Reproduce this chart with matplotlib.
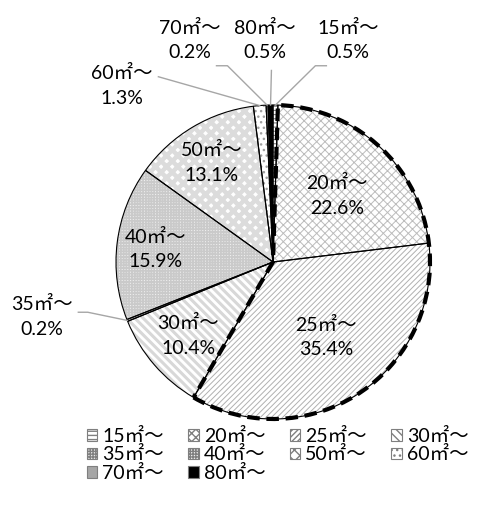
import matplotlib

matplotlib.use("Agg")
import matplotlib.pyplot as plt
import numpy as np
from matplotlib.patches import Patch, Wedge

# -------------------------------------------------------------------------
# Data
# -------------------------------------------------------------------------
categories = ["15㎡～", "20㎡～", "25㎡～", "30㎡～", "35㎡～",
              "40㎡～", "50㎡～", "60㎡～", "70㎡～", "80㎡～"]
shares = [0.5, 22.6, 35.4, 10.4, 0.2, 15.9, 13.1, 1.3, 0.2, 0.5]
pct_labels = ["0.5%", "22.6%", "35.4%", "10.4%", "0.2%",
              "15.9%", "13.1%", "1.3%", "0.2%", "0.5%"]

# -------------------------------------------------------------------------
# Style
# -------------------------------------------------------------------------
FONT = ["Lato", "Noto Sans CJK JP", "DejaVu Sans"]
FS = 14
LEADER = "#a6a6a6"

# face colour, hatch, hatch colour, hatch line width
styles = [
    ("white", "----", "#808080", 0.8),
    ("white", "xxxx", "#bcbcbc", 0.7),
    ("white", "//////", "#b0b0b0", 0.7),
    ("white", "\\\\\\\\", "#d8d8d8", 2.2),
    ("#e6e6e6", "++++++", "#c4c4c4", 1.0),
    ("#efefef", "++++++", "#cacaca", 1.2),
    ("white", "xxx", "#dcdcdc", 3.2),
    ("white", "...", "#a0a0a0", 1.0),
    ("#a6a6a6", "", "#a6a6a6", 0.8),
    ("black", "", "black", 0.8),
]

# label centres in pie units (radius = 1)
label_pos = [(0.48, 1.41), (0.41, 0.42), (0.34, -0.48), (-0.54, -0.47),
             (-1.47, -0.35), (-0.75, 0.08), (-0.39, 0.63), (-0.96, 1.12),
             (-0.53, 1.41), (-0.05, 1.41)]
# leader line knee points (None = label inside the slice)
leader_knees = [
    [(0.34, 1.25), (0.27, 1.25)],
    None, None, None,
    [(-1.24, -0.32), (-1.18, -0.32)],
    None, None,
    [(-0.73, 1.18)],
    [(-0.36, 1.25), (-0.29, 1.25)],
    [(-0.01, 1.22)],
]

# -------------------------------------------------------------------------
# Plot
# -------------------------------------------------------------------------
fig = plt.figure(figsize=(4.8, 5.11), dpi=100)
ax = fig.add_axes([0, 0, 1, 1])

wedges, _ = ax.pie(shares, startangle=90, counterclock=False, radius=1)
for w, (fc, hatch, hc, hlw) in zip(wedges, styles):
    w.set_facecolor(fc)
    w.set_edgecolor(hc)
    w.set_hatch(hatch)
    w.set_linewidth(0)
    if hasattr(w, "set_hatch_linewidth"):
        w.set_hatch_linewidth(hlw)

# thin black slice borders
ax.pie(shares, startangle=90, counterclock=False, radius=1,
       wedgeprops=dict(fill=False, edgecolor="black", linewidth=0.8))

# dashed outline around the 20 and 25 slices
cum = np.cumsum([0] + shares) / sum(shares) * 360
ax.add_patch(Wedge((0, 0), 1, 90 - cum[3], 90 - cum[1], fill=False,
                   edgecolor="black", linewidth=3, linestyle=(0, (3, 1.6)),
                   zorder=5))

# labels and leader lines
mid = 90 - (cum[:-1] + cum[1:]) / 2
for i, (cat, pct) in enumerate(zip(categories, pct_labels)):
    x, y = label_pos[i]
    ax.text(x, y, f"{cat}\n{pct}", ha="center", va="center",
            fontsize=FS, family=FONT, linespacing=1.55, zorder=6)
    if leader_knees[i] is not None:
        a = np.deg2rad(mid[i])
        pts = leader_knees[i] + [(np.cos(a), np.sin(a))]
        ax.plot([p[0] for p in pts], [p[1] for p in pts], color=LEADER,
                linewidth=1.0, zorder=4)

ax.set_xlim(-273 / 157, (480 - 273) / 157)
ax.set_ylim(-(511 - 262) / 157, 262 / 157)
ax.set_aspect("auto")
ax.axis("off")

# legend, filled row by row like the original
handles = [Patch(facecolor=fc, edgecolor="#7f7f7f", hatch=h, linewidth=0.8)
           for fc, h, hc, hlw in styles]
order = [0, 4, 8, 1, 5, 9, 2, 6, 3, 7]
fig.legend([handles[i] for i in order], [categories[i] for i in order],
           ncol=4, loc="upper left", bbox_to_anchor=(0.16, 0.182),
           frameon=False, prop=dict(family=FONT, size=FS),
           handlelength=0.55, handleheight=0.55, handletextpad=0.25,
           columnspacing=1.25, labelspacing=0.08, borderpad=0)

fig.savefig("out.png", dpi=100)
